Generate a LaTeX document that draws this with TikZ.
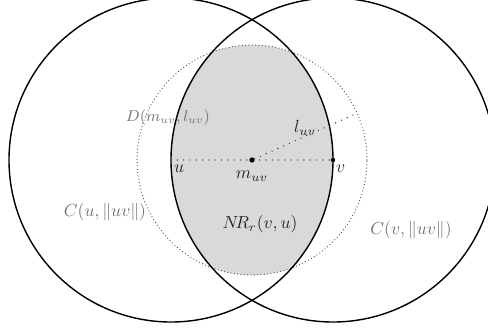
\documentclass[tikz,border=0pt]{standalone}
\usepackage{amsmath, amssymb}
\usepackage{xcolor}
\usetikzlibrary{positioning, calc}

\begin{document}
\begin{tikzpicture}[
        node distance=0.1cm,
        ring/.style={draw, thick},
        disk/.style={draw, line width=0.7pt, dash pattern=on 0pt off 1.9pt, line cap=round, black!70},
        guide/.style={line width=0.8pt, dash pattern=on 0pt off 3.6pt, line cap=round, black!80},
        dot/.style={circle, fill=black, inner sep=0pt, minimum size=3pt},
        tag/.style={text=black!85, inner sep=1pt},
        faint/.style={text=black!55, inner sep=1pt}
    ]

        \useasboundingbox (-5.04,-3.38) rectangle (4.72,3.2);
        \clip (-5.04,-3.38) rectangle (4.72,3.2);

        \coordinate (u) at (-1.62,0);
        \coordinate (v) at (1.62,0);
        \coordinate (l) at (24:2.3);

        % shaded part of the lens inside D
        \begin{scope}
            \clip (u) circle (3.24);
            \clip (v) circle (3.24);
            \fill[black!15] (0,0) circle (2.3);
        \end{scope}

        \draw[disk] (0,0) circle (2.3);
        \draw[ring] (u) circle (3.24);
        \draw[ring] (v) circle (3.24);

        \node[dot] (m) at (0,0) {};
        \node[dot, minimum size=2.5pt] (vdot) at (v) {};

        \draw[guide] (u) -- (vdot);
        \draw[guide] (m) -- (l);

        \node[tag, below right=0.05cm and 0.02cm of u] (ulab) {$u$};
        \node[tag, below=0.12cm of m] (mlab) {$m_{uv}$};
        \node[tag, below right=0.05cm and 0.02cm of v] (vlab) {$v$};
        \node[tag] (llab) at (1.06,0.64) {$l_{uv}$};
        \node[faint, font=\small] (dlab) at (-1.68,0.84) {$D(m_{uv},l_{uv})$};
        \node[faint] (cu) at (-2.94,-1.04) {$C(u,\|uv\|)$};
        \node[tag] (nr) at (0.16,-1.28) {$N\!R_r(v,u)$};
        \node[faint] (cv) at (3.18,-1.4) {$C(v,\|uv\|)$};

    \end{tikzpicture}
\end{document}
